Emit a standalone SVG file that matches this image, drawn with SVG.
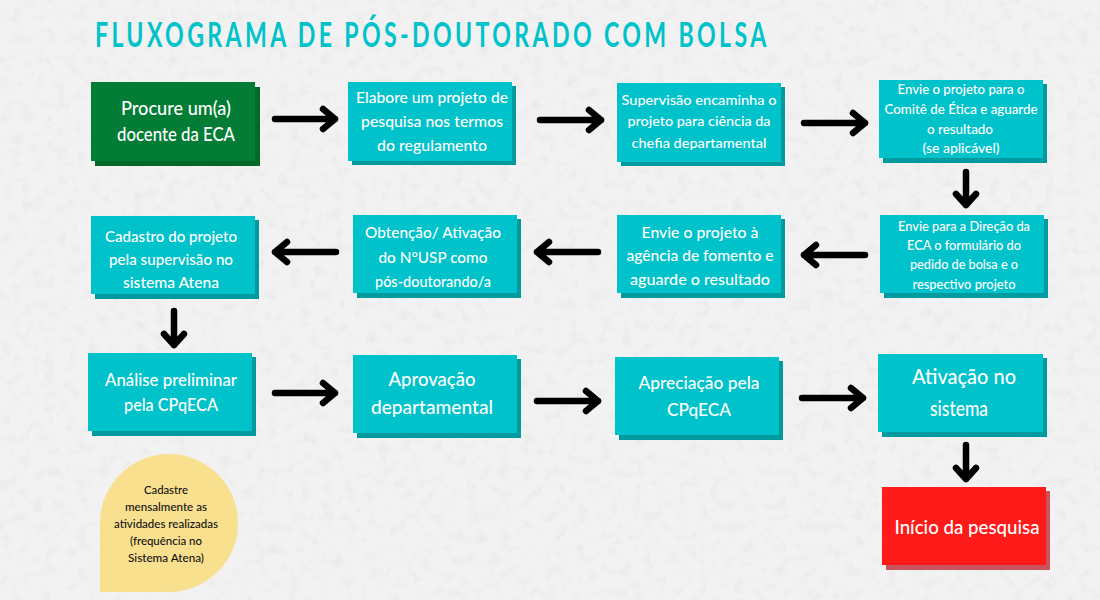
<svg xmlns="http://www.w3.org/2000/svg" width="1100" height="600" viewBox="0 0 1100 600">
<defs>
<filter id="grain" x="0" y="0" width="100%" height="100%"><feTurbulence type="fractalNoise" baseFrequency="0.09" numOctaves="4" seed="5"/><feColorMatrix values="0 0 0 0 0.55 0 0 0 0 0.55 0 0 0 0 0.55 0 0 0 1.2 -0.58"/></filter>
<style>
.t{font-family:"Lato","Noto Sans",sans-serif;font-weight:500;fill:#fff;text-anchor:middle;font-size:16px}
.x{font-size:14px}
.k{font-size:11.5px;fill:#111}
.l{font-size:19px}
.m{font-size:18px}
.h{font-size:21px}
.sh{fill:#009a9f}
.b{fill:#00c2cb}
.c{fill:none;stroke:#000;stroke-width:6.5;stroke-linecap:round;stroke-linejoin:round}
</style>
</defs>
<rect width="1100" height="600" fill="#f2f2f2"/>
<rect width="1100" height="600" filter="url(#grain)" opacity="0.35"/>
<text transform="translate(95 47) scale(0.68 1)" font-family="Lato,'Noto Sans',sans-serif" font-weight="700" font-size="34" letter-spacing="4.95" fill="#00c2cb">FLUXOGRAMA DE PÓS-DOUTORADO COM BOLSA</text>
<g id="connectors">
<path class="c" d="M275 119H335M323 109L335 119L323 129"/>
<path class="c" d="M540 120H601M589 110L601 120L589 130"/>
<path class="c" d="M804 123H865M853 113L865 123L853 133"/>
<path class="c" d="M966 172V205M956 194L966 205L976 194"/>
<path class="c" d="M865 255H804M816 245L804 255L816 265"/>
<path class="c" d="M598 252H537M549 242L537 252L549 262"/>
<path class="c" d="M336 252H275M287 242L275 252L287 262"/>
<path class="c" d="M174 311V345M164 334L174 345L184 334"/>
<path class="c" d="M275 393H335M323 383L335 393L323 403"/>
<path class="c" d="M537 401H598M586 391L598 401L586 411"/>
<path class="c" d="M802 398H863M851 388L863 398L851 408"/>
<path class="c" d="M966 445V479M956 468L966 479L976 468"/>
</g>
<g id="n1"><rect x="95" y="87" width="165" height="79" fill="#056826"/><rect x="91" y="82" width="164" height="79" fill="#037d35"/><text class="t l" x="176" y="115" textLength="110" lengthAdjust="spacingAndGlyphs">Procure um(a)</text><text class="t l" x="176" y="141" textLength="118" lengthAdjust="spacingAndGlyphs">docente da ECA</text></g>
<g id="n2"><rect class="sh" x="352" y="86" width="164" height="79"/><rect class="b" x="348" y="82" width="164" height="79"/><text class="t" x="432" y="103" textLength="152" lengthAdjust="spacingAndGlyphs">Elabore um projeto de</text><text class="t" x="432" y="127" textLength="142" lengthAdjust="spacingAndGlyphs">pesquisa nos termos</text><text class="t" x="432" y="151" textLength="110" lengthAdjust="spacingAndGlyphs">do regulamento</text></g>
<g id="n3"><rect class="sh" x="621" y="87" width="164" height="79"/><rect class="b" x="617" y="83" width="164" height="79"/><text class="t x" x="699" y="105" textLength="155" lengthAdjust="spacingAndGlyphs">Supervisão encaminha o</text><text class="t x" x="699" y="126" textLength="143" lengthAdjust="spacingAndGlyphs">projeto para ciência da</text><text class="t x" x="699" y="148" textLength="135" lengthAdjust="spacingAndGlyphs">chefia departamental</text></g>
<g id="n4"><rect class="sh" x="883" y="84" width="164" height="79"/><rect class="b" x="879" y="80" width="164" height="78"/><text class="t x" x="961" y="94" textLength="127" lengthAdjust="spacingAndGlyphs">Envie o projeto para o</text><text class="t x" x="961" y="114" textLength="153" lengthAdjust="spacingAndGlyphs">Comitê de Ética e aguarde</text><text class="t x" x="960" y="134" textLength="66" lengthAdjust="spacingAndGlyphs">o resultado</text><text class="t x" x="961" y="153" textLength="77" lengthAdjust="spacingAndGlyphs">(se aplicável)</text></g>
<g id="n5"><rect class="sh" x="884" y="219" width="164" height="79"/><rect class="b" x="880" y="215" width="164" height="78"/><text class="t x" x="964" y="231" textLength="132" lengthAdjust="spacingAndGlyphs">Envie para a Direção da</text><text class="t x" x="964" y="250" textLength="114" lengthAdjust="spacingAndGlyphs">ECA o formulário do</text><text class="t x" x="964" y="269" textLength="108" lengthAdjust="spacingAndGlyphs">pedido de bolsa e o</text><text class="t x" x="964" y="289" textLength="103" lengthAdjust="spacingAndGlyphs">respectivo projeto</text></g>
<g id="n6"><rect class="sh" x="621" y="219" width="164" height="79"/><rect class="b" x="617" y="215" width="164" height="78"/><text class="t" x="700" y="238" textLength="117" lengthAdjust="spacingAndGlyphs">Envie o projeto à</text><text class="t" x="700" y="261" textLength="147" lengthAdjust="spacingAndGlyphs">agência de fomento e</text><text class="t" x="700" y="285" textLength="140" lengthAdjust="spacingAndGlyphs">aguarde o resultado</text></g>
<g id="n7"><rect class="sh" x="357" y="219" width="164" height="79"/><rect class="b" x="353" y="215" width="164" height="78"/><text class="t" x="433" y="238" textLength="136" lengthAdjust="spacingAndGlyphs">Obtenção/ Ativação</text><text class="t" x="433" y="263" textLength="109" lengthAdjust="spacingAndGlyphs">do N°USP como</text><text class="t" x="433" y="287" textLength="116" lengthAdjust="spacingAndGlyphs">pós-doutorando/a</text></g>
<g id="n8"><rect class="sh" x="95" y="220" width="164" height="79"/><rect class="b" x="91" y="216" width="164" height="78"/><text class="t" x="171" y="242" textLength="132" lengthAdjust="spacingAndGlyphs">Cadastro do projeto</text><text class="t" x="171" y="265" textLength="124" lengthAdjust="spacingAndGlyphs">pela supervisão no</text><text class="t" x="171" y="288" textLength="96" lengthAdjust="spacingAndGlyphs">sistema Atena</text></g>
<g id="n9"><rect class="sh" x="92" y="357" width="164" height="79"/><rect class="b" x="88" y="353" width="164" height="78"/><text class="t m" x="171" y="386" textLength="132" lengthAdjust="spacingAndGlyphs">Análise preliminar</text><text class="t m" x="171" y="411" textLength="94" lengthAdjust="spacingAndGlyphs">pela CPqECA</text></g>
<g id="n10"><rect class="sh" x="357" y="359" width="164" height="79"/><rect class="b" x="353" y="355" width="164" height="78"/><text class="t l" x="432" y="386" textLength="87" lengthAdjust="spacingAndGlyphs">Aprovação</text><text class="t l" x="432" y="414" textLength="122" lengthAdjust="spacingAndGlyphs">departamental</text></g>
<g id="n11"><rect class="sh" x="619" y="361" width="164" height="79"/><rect class="b" x="615" y="357" width="164" height="78"/><text class="t m" x="699" y="389" textLength="121" lengthAdjust="spacingAndGlyphs">Apreciação pela</text><text class="t m" x="699" y="416" textLength="64" lengthAdjust="spacingAndGlyphs">CPqECA</text></g>
<g id="n12"><rect class="sh" x="882" y="358" width="165" height="79"/><rect class="b" x="878" y="354" width="165" height="78"/><text class="t h" x="964" y="384" textLength="104" lengthAdjust="spacingAndGlyphs">Ativação no</text><text class="t h" x="959" y="416" textLength="58" lengthAdjust="spacingAndGlyphs">sistema</text></g>
<g id="n13"><rect x="886" y="491" width="164" height="79" fill="#c9545c"/><rect x="882" y="487" width="164" height="78" fill="#ff1a1a"/><text class="t l" x="967" y="534" textLength="145" lengthAdjust="spacingAndGlyphs">Início da pesquisa</text></g>
<g id="n14"><path d="M100 592V523A69 69 0 1 1 169 592Z" fill="#f9e08f"/><text class="t k" x="166" y="494" textLength="44" lengthAdjust="spacingAndGlyphs">Cadastre</text><text class="t k" x="166" y="511" textLength="82" lengthAdjust="spacingAndGlyphs">mensalmente as</text><text class="t k" x="166" y="528" textLength="104" lengthAdjust="spacingAndGlyphs">atividades realizadas</text><text class="t k" x="166" y="545" textLength="72" lengthAdjust="spacingAndGlyphs">(frequência no</text><text class="t k" x="166" y="562" textLength="76" lengthAdjust="spacingAndGlyphs">Sistema Atena)</text></g>
</svg>
